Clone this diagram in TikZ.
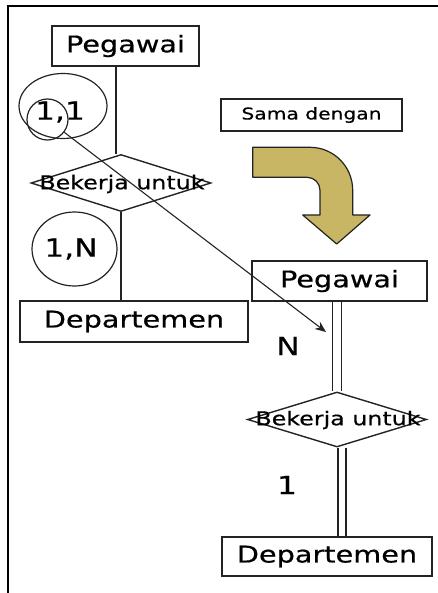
\documentclass[tikz,border=0pt]{standalone}
\usepackage{fontspec}
\setmainfont{DejaVu Sans}[FakeStretch=1.25,FakeBold=0.6]
\usetikzlibrary{shapes.geometric,arrows.meta}
\definecolor{arrowfill}{RGB}{200,182,100}
\definecolor{edge}{RGB}{35,35,35}
\begin{document}
\begin{tikzpicture}[x=1pt,y=-1pt,
  entity/.style={draw=edge, line width=1.5pt, rectangle, inner sep=0pt},
  rel/.style={draw=edge, line width=1.4pt, diamond, inner sep=0pt},
  ring/.style={draw=edge, line width=1.2pt, ellipse, inner sep=0pt},
  conn/.style={draw=edge, line width=1.4pt},
  dbl/.style={draw=edge, line width=1.3pt, double, double distance=7.5pt},
  big/.style={font=\fontsize{23}{27}\selectfont},
  mid/.style={font=\fontsize{19}{23}\selectfont},
  small/.style={font=\fontsize{16.2}{20}\selectfont},
  card/.style={font=\fontsize{25}{29}\selectfont}]
\useasboundingbox (0,0) rectangle (438,593);
\draw[line width=2pt] (7.5,593) -- (7.5,6) -- (438,6);

% left diagram
\node[entity, big, minimum width=147pt, minimum height=40pt] (peg1) at (125.5,46) {Pegawai};
\node[rel, minimum width=180pt, minimum height=57pt] (rel1) at (121,183) {};
\node[mid] (rel1t) at (122,184) {Bekerja untuk};
\node[entity, big, minimum width=228pt, minimum height=41pt] (dep1) at (134,321.5) {Departemen};
\draw[conn] ([xshift=-9.5pt]peg1.south) -- ([xshift=-9.5pt]peg1.south |- rel1.north);
\draw[conn] (rel1.south) -- (rel1.south |- dep1.north);

\node[ring, minimum width=88pt, minimum height=65pt] (c11big) at (63,106) {};
\node[ring, circle, minimum size=41pt] (c11small) at (47.5,119.5) {};
\node[card] (t11) at (60,112) {1,1};
\node[ring, card, minimum width=85pt, minimum height=74pt] (c1N) at (74.5,249) {};
\node[card] (t1N) at (71,249) {1,N};

% right side
\node[entity, small, minimum width=181pt, minimum height=32pt] (sama) at (311.5,115) {Sama dengan};
\draw[draw=edge, line width=1.2pt, fill=arrowfill, line join=round]
  (252.7,147.3) -- (310,147.3)
  .. controls (333.7,147.3) and (352.7,166.6) .. (352.7,190.3)
  -- (352.7,215) -- (370,215) -- (336.7,244) -- (302.7,215) -- (320,215)
  -- (320,190.3) .. controls (320,183.1) and (314.2,177.3) .. (307,177.3)
  -- (252.7,177.3) -- cycle;

\node[entity, big, minimum width=175pt, minimum height=40pt] (peg2) at (339.5,281) {Pegawai};
\node[rel, minimum width=179pt, minimum height=55pt] (rel2) at (337,419.5) {};
\node[mid] (rel2t) at (338,420) {Bekerja untuk};
\node[entity, big, minimum width=210pt, minimum height=39pt] (dep2) at (327,556.5) {Departemen};
\draw[dbl] (rel2.north |- peg2.south) -- (rel2.north);
\draw[dbl, double distance=6.5pt] ([xshift=5pt]rel2.south) -- ([xshift=5pt]rel2.south |- dep2.north);
\node[card] (lN) at (288,346) {N};
\node[card] (l1) at (287,485) {1};

\coordinate (tip) at (326,332);
\draw[conn, line width=1.1pt, -{Stealth[length=11pt,width=9pt]}] (c11small) -- (tip);
\end{tikzpicture}
\end{document}
